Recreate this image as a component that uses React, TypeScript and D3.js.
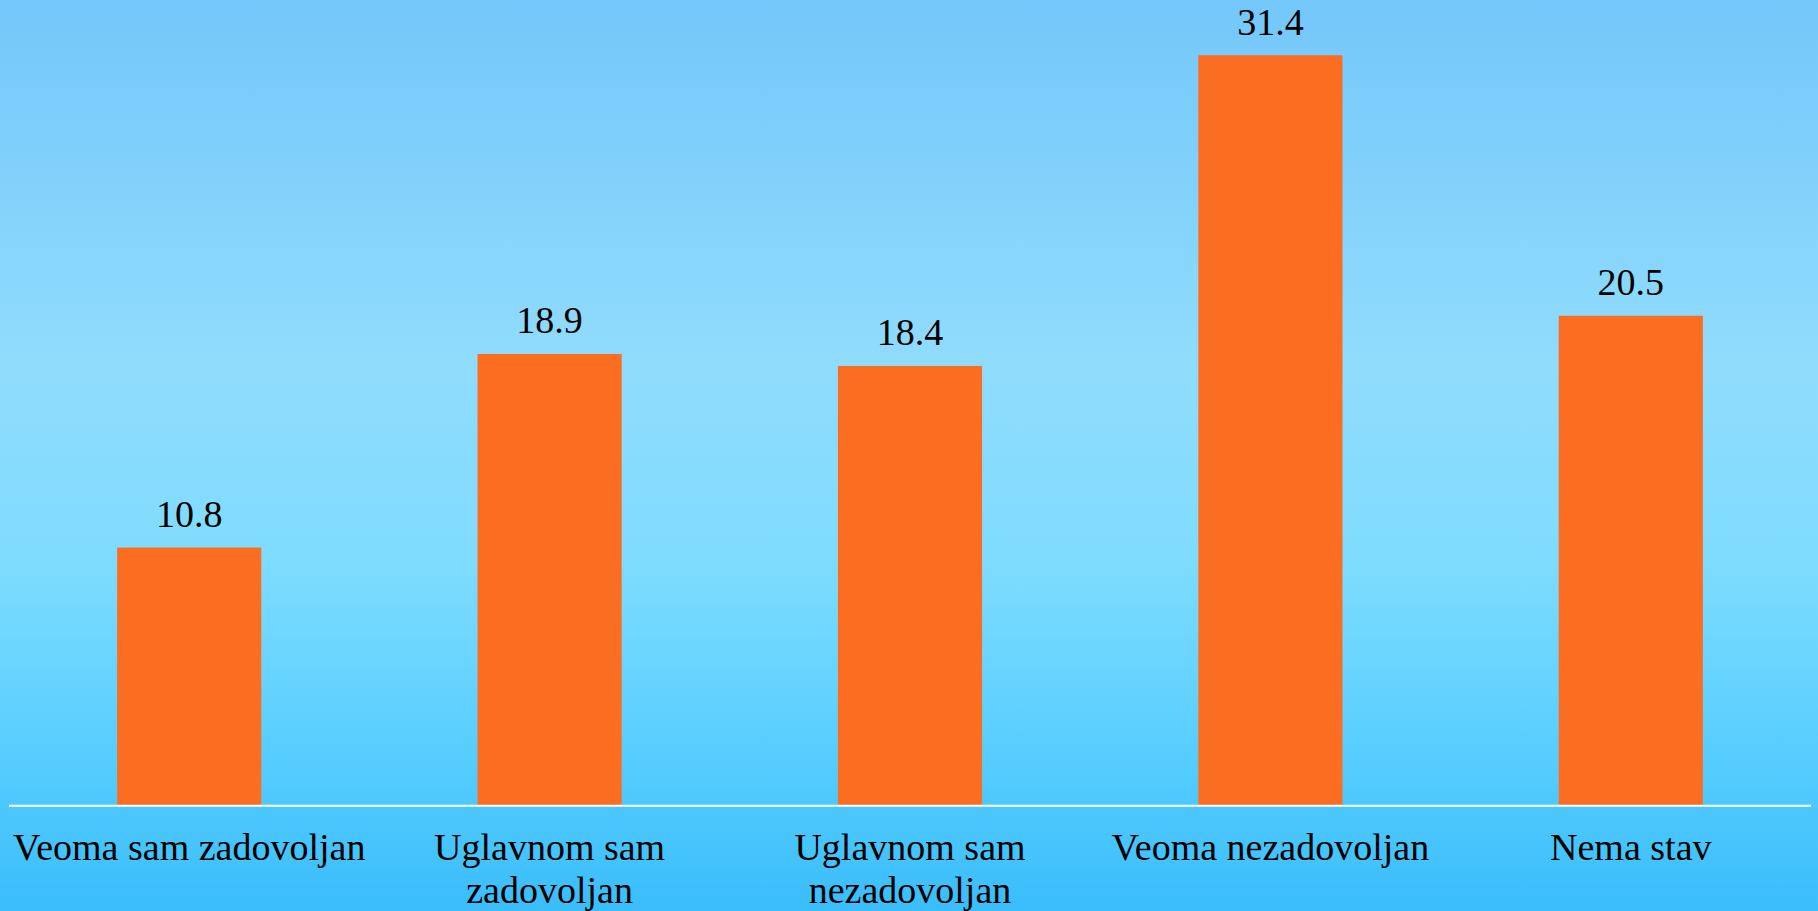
import React from "react";
import * as d3 from "d3";

const categories: string[][] = [
  ["Veoma sam zadovoljan"],
  ["Uglavnom sam", "zadovoljan"],
  ["Uglavnom sam", "nezadovoljan"],
  ["Veoma nezadovoljan"],
  ["Nema stav"],
];
const values: number[] = [10.8, 18.9, 18.4, 31.4, 20.5];
const valueLabels: string[] = ["10.8", "18.9", "18.4", "31.4", "20.5"];

const W = 1818;
const H = 911;
const BASE = 805.7;

export default function App() {
  const idx = categories.map((_, i) => String(i));
  const x = d3.scaleBand<string>().domain(idx).range([9, 1811]).paddingInner(0.6).paddingOuter(0.3);
  const y = d3.scaleLinear().domain([0, 30]).range([BASE, BASE - 30 * 23.9]);
  const font = "'Liberation Serif', 'Times New Roman', serif";
  return (
    <svg
      width={W}
      height={H}
      style={{ position: "fixed", left: 0, top: 0, display: "block" }}
      fontFamily={font}
    >
      <defs>
        <linearGradient id="bg" x1="0" y1="0" x2="0" y2="1">
          <stop offset="0%" stopColor="#74C7FA" />
          <stop offset="40%" stopColor="#90DCFD" />
          <stop offset="62%" stopColor="#7EDCFE" />
          <stop offset="82%" stopColor="#58CEFE" />
          <stop offset="100%" stopColor="#3ABDFB" />
        </linearGradient>
      </defs>
      <rect x={0} y={0} width={W} height={H} fill="url(#bg)" />
      {values.map((v, i) => (
        <g key={i}>
          <rect
            x={x(String(i))}
            y={y(v)}
            width={x.bandwidth()}
            height={y(0) - y(v)}
            fill="#FB6E22"
          />
          <text
            x={(x(String(i)) as number) + x.bandwidth() / 2}
            y={y(v) - 20.5}
            textAnchor="middle"
            fontSize={38}
            fill="#000"
          >
            {valueLabels[i]}
          </text>
        </g>
      ))}
      <line x1={9} x2={1811} y1={BASE} y2={BASE} stroke="#FFFFFF" strokeWidth={2} />
      {categories.map((lines, i) => (
        <text
          key={i}
          x={(x(String(i)) as number) + x.bandwidth() / 2}
          y={860}
          textAnchor="middle"
          fontSize={38}
          fill="#000"
        >
          {lines.map((l, j) => (
            <tspan key={j} x={(x(String(i)) as number) + x.bandwidth() / 2} dy={j === 0 ? 0 : 43}>
              {l}
            </tspan>
          ))}
        </text>
      ))}
    </svg>
  );
}
